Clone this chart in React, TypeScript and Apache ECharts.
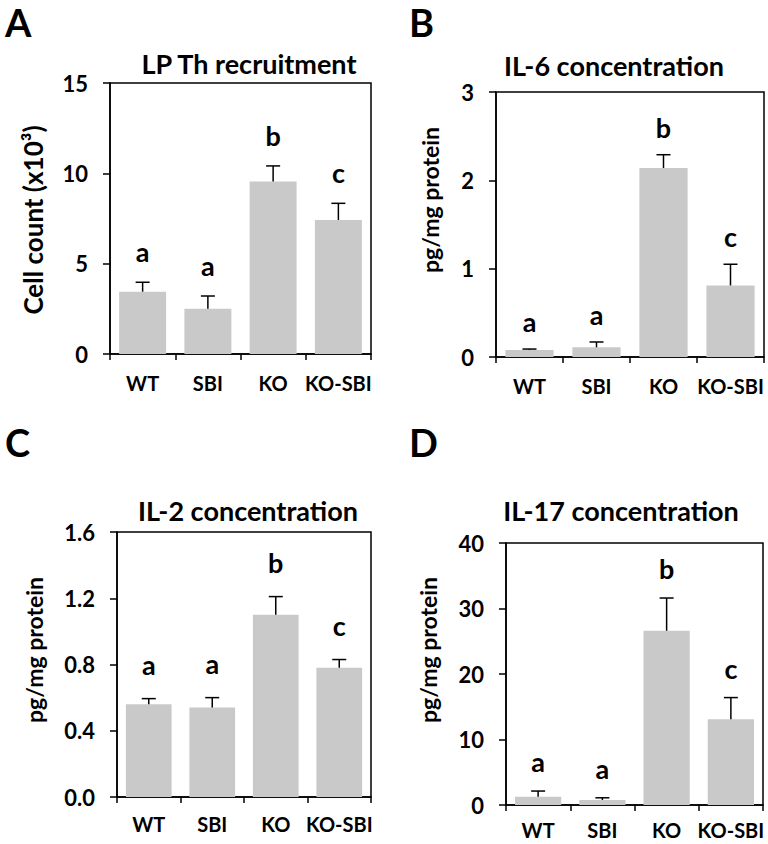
import React, { useEffect, useRef } from "react";
import * as echarts from "echarts";

const categories = ["WT", "SBI", "KO", "KO-SBI"];

// Panel A: LP Th recruitment (cell count x10^3)
const lpMeans = [3.45, 2.5, 9.55, 7.42];
const lpSem = [0.52, 0.71, 0.86, 0.92];
const lpLetters = ["a", "a", "b", "c"];

// Panel B: IL-6 concentration
const il6Means = [0.08, 0.11, 2.14, 0.81];
const il6Sem = [0.01, 0.06, 0.15, 0.24];
const il6Letters = ["a", "a", "b", "c"];

// Panel C: IL-2 concentration
const il2Means = [0.56, 0.54, 1.1, 0.78];
const il2Sem = [0.034, 0.06, 0.11, 0.05];
const il2Letters = ["a", "a", "b", "c"];

// Panel D: IL-17 concentration
const il17Means = [1.27, 0.76, 26.6, 13.1];
const il17Sem = [0.86, 0.34, 5.0, 3.3];
const il17Letters = ["a", "a", "b", "c"];

const yMaxes = [15, 3, 1.6, 40];
const yIntervals = [5, 1, 0.4, 10];
const titles = ["LP Th recruitment", "IL-6 concentration", "IL-2 concentration", "IL-17 concentration"];
const yNames = ["Cell count (x10³)", "pg/mg protein", "pg/mg protein", "pg/mg protein"];
const panelLetters = ["A", "B", "C", "D"];

const FONT = "Lato";
const BAR_COLOR = "#c9c9c9";

export default function App() {
  const ref = useRef<HTMLDivElement>(null);

  useEffect(() => {
    if (!ref.current) return;
    const chart = echarts.init(ref.current, undefined, { renderer: "svg" });

    const panels = [
      { means: lpMeans, sem: lpSem, letters: lpLetters, gap: 17, decimals: 0, nameSize: 26, labelMargin: 19 },
      { means: il6Means, sem: il6Sem, letters: il6Letters, gap: 14, decimals: 0, nameSize: 23, labelMargin: 19 },
      { means: il2Means, sem: il2Sem, letters: il2Letters, gap: 21, decimals: 1, nameSize: 23, labelMargin: 17 },
      { means: il17Means, sem: il17Sem, letters: il17Letters, gap: 16, decimals: 0, nameSize: 23, labelMargin: 15 },
    ];

    const grids = [
      { left: 110, top: 83, width: 261, height: 271 },
      { left: 496, top: 92, width: 268, height: 265 },
      { left: 117, top: 532, width: 254, height: 265 },
      { left: 506, top: 543, width: 257, height: 262 },
    ];

    const titlePos = [
      [249, 63],
      [614, 65],
      [248, 510],
      [621, 510],
    ];
    const yNamePos = [
      [33, 220],
      [430, 200],
      [34, 650],
      [428, 650],
    ];
    const letterPos = [
      [5, 3],
      [409, 3],
      [5, 423],
      [409, 423],
    ];

    const series: any[] = [];
    panels.forEach((p, k) => {
      series.push({
        type: "bar",
        xAxisIndex: k,
        yAxisIndex: k,
        data: p.means,
        barCategoryGap: "28%",
        itemStyle: { color: BAR_COLOR },
        z: 2,
      });
      series.push({
        type: "custom",
        xAxisIndex: k,
        yAxisIndex: k,
        z: 3,
        data: p.means.map((m, i) => [i, m, m + p.sem[i]]),
        renderItem: (params: any, api: any) => {
          const i = api.value(0);
          const m = api.value(1);
          const t = api.value(2);
          const p0 = api.coord([i, m]);
          const p1 = api.coord([i, t]);
          const cap = 7;
          const st = { stroke: "#000", lineWidth: 1.5 };
          return {
            type: "group",
            children: [
              { type: "line", shape: { x1: p0[0], y1: p0[1], x2: p1[0], y2: p1[1] }, style: st },
              { type: "line", shape: { x1: p1[0] - cap, y1: p1[1], x2: p1[0] + cap, y2: p1[1] }, style: st },
              {
                type: "text",
                x: p1[0],
                y: p1[1] - p.gap,
                style: {
                  text: p.letters[params.dataIndex],
                  fontFamily: FONT,
                  fontWeight: "bold",
                  fontSize: 27,
                  fill: "#000",
                  align: "center",
                  verticalAlign: "bottom",
                },
              },
            ],
          };
        },
      });
    });

    const graphic: any[] = [];
    titles.forEach((t, k) => {
      graphic.push({
        type: "text",
        x: titlePos[k][0],
        y: titlePos[k][1],
        style: { text: t, fontFamily: FONT, fontWeight: "bold", fontSize: 27, fill: "#000", align: "center", verticalAlign: "middle" },
      });
      graphic.push({
        type: "text",
        x: yNamePos[k][0],
        y: yNamePos[k][1],
        rotation: Math.PI / 2,
        style: { text: yNames[k], fontFamily: FONT, fontWeight: "bold", fontSize: panels[k].nameSize, fill: "#000", align: "center", verticalAlign: "middle" },
      });
      graphic.push({
        type: "text",
        x: letterPos[k][0],
        y: letterPos[k][1],
        style: { text: panelLetters[k], fontFamily: FONT, fontWeight: "bold", fontSize: 38, fill: "#000", align: "left", verticalAlign: "top" },
      });
    });

    chart.setOption({
      animation: false,
      backgroundColor: "#fff",
      grid: grids.map((g) => ({ ...g, show: true, borderColor: "#000", borderWidth: 1.5, backgroundColor: "transparent" })),
      xAxis: grids.map((_, k) => ({
        type: "category",
        gridIndex: k,
        data: categories,
        axisLine: { lineStyle: { color: "#000", width: 1.5 } },
        axisTick: { show: true, inside: false, length: 6, interval: 0, lineStyle: { color: "#000", width: 1.5 } },
        axisLabel: { color: "#000", fontFamily: FONT, fontWeight: "bold", fontSize: 20, margin: panels[k].labelMargin, interval: 0 },
      })),
      yAxis: grids.map((_, k) => ({
        type: "value",
        gridIndex: k,
        min: 0,
        max: yMaxes[k],
        interval: yIntervals[k],
        splitLine: { show: false },
        axisLine: { show: true, lineStyle: { color: "#000", width: 1.5 } },
        axisTick: { show: true, inside: false, length: 7, lineStyle: { color: "#000", width: 1.5 } },
        axisLabel: {
          color: "#000",
          fontFamily: FONT,
          fontWeight: "bold",
          fontSize: 22,
          margin: 22,
          formatter: (v: number) => v.toFixed(panels[k].decimals),
        },
      })),
      series,
      graphic,
    });

    return () => chart.dispose();
  }, []);

  return <div ref={ref} style={{ position: "fixed", left: 0, top: 0, width: 768, height: 844 }} />;
}
